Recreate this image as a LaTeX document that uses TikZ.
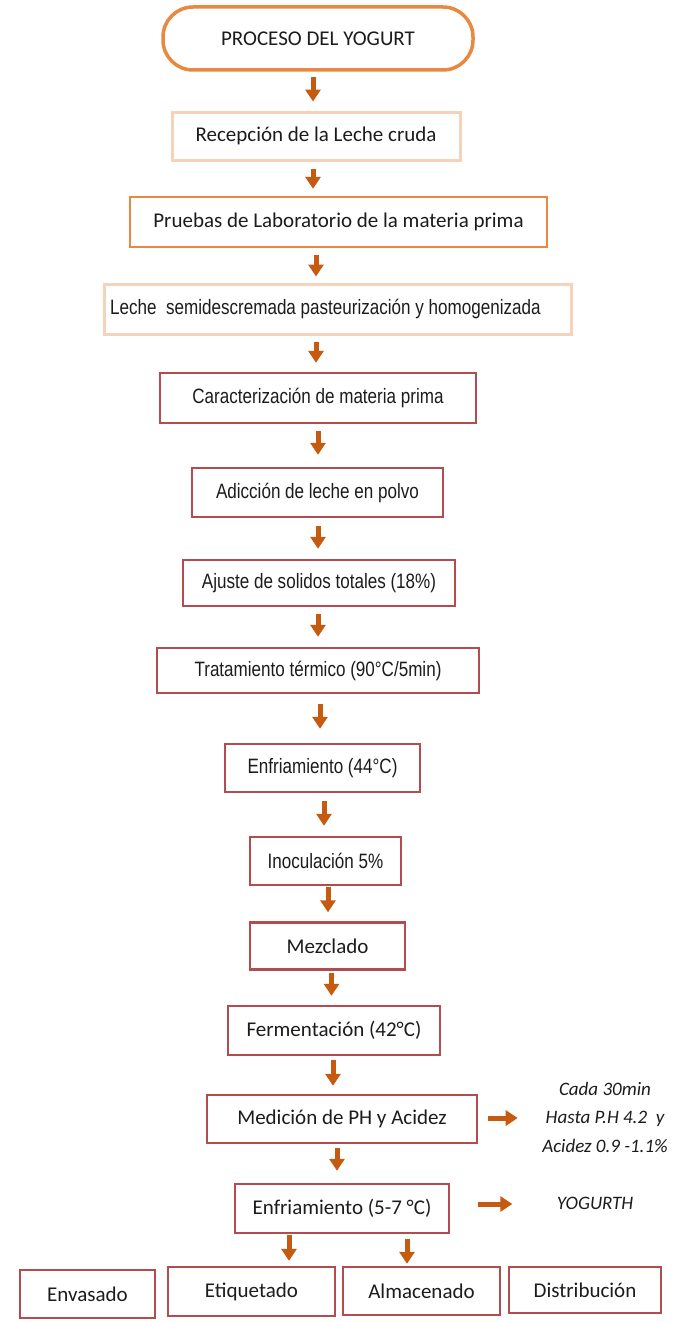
\documentclass[tikz,border=0pt]{standalone}
\usepackage{fontspec}
\setmainfont{Carlito}
\newfontfamily\narrowfont[FakeStretch=0.82]{Liberation Sans}
\usetikzlibrary{arrows.meta,calc}

\definecolor{peach}{HTML}{F6D2BA}
\definecolor{accorange}{HTML}{E9883E}
\definecolor{boxred}{HTML}{B24C4E}
\definecolor{arrowbrown}{HTML}{C55A11}
\definecolor{ink}{HTML}{1C1C1C}

% vertical process arrow: from node #1 down to node #2, x offset #3, gaps #4/#5
\newcommand\darr[5]{%
  \draw[flowarrow,shorten <=#4pt,shorten >=#5pt]
    ([xshift=#3pt]#1.south) -- ([xshift=#3pt]#1.south |- #2.north);}

\begin{document}
\begin{tikzpicture}[x=1pt,y=-1pt,
  every node/.style={text=ink},
  cfont/.style={font=\fontsize{21}{24}\selectfont},
  nfont/.style={font=\narrowfont\fontsize{20.8}{24}\selectfont},
  procbox/.style={draw=boxred,line width=2.5pt,inner sep=0pt},
  peachbox/.style={draw=peach,line width=3pt,inner sep=0pt},
  orangebox/.style={draw=accorange,line width=2.5pt,inner sep=0pt},
  flowarrow/.style={draw=arrowbrown,line width=5pt,
    -{Triangle[width=15pt,length=12pt]}},
  notetext/.style={font=\fontsize{19}{28.5}\selectfont\itshape,align=center},
]
\useasboundingbox (0,0) rectangle (677,1322);
\fill[white] (0,0) rectangle (677,1322);

% title
\node[draw=accorange,line width=3.5pt,rounded corners=30pt,
      minimum width=310pt,minimum height=63pt,cfont] (title) at (318,38.5)
      {PROCESO DEL YOGURT};

% process steps
\node[peachbox,minimum width=288pt,minimum height=48pt,cfont] (rec) at (316,136)
  {Recepción de la Leche cruda};
\node[orangebox,minimum width=417pt,minimum height=50pt,cfont] (pru) at (338.5,222)
  {Pruebas de Laboratorio de la materia prima};
\node[peachbox,minimum width=467pt,minimum height=50pt] (lec) at (337.5,309) {};
\node[nfont,anchor=west,inner sep=0pt] (lectxt) at (110,309)
  {Leche\ \ semidescremada pasteurización y homogenizada};
\node[procbox,minimum width=316pt,minimum height=50pt,nfont] (car) at (318,398)
  {Caracterización de materia prima};
\node[procbox,minimum width=251pt,minimum height=49pt,nfont] (adi) at (317.5,492.5)
  {Adicción de leche en polvo};
\node[procbox,minimum width=272pt,minimum height=46pt,nfont] (aju) at (319,583)
  {Ajuste de solidos totales (18\%)};
\node[procbox,minimum width=322pt,minimum height=45pt,nfont] (tra) at (318,670.5)
  {Tratamiento térmico (90°C/5min)};
\node[procbox,minimum width=195pt,minimum height=48pt,nfont] (enfa) at (322.5,768)
  {Enfriamiento (44°C)};
\node[procbox,minimum width=151pt,minimum height=48pt,nfont] (ino) at (325.5,861)
  {Inoculación 5\%};
\node[procbox,minimum width=155pt,minimum height=47pt,cfont] (mez) at (327.5,946)
  {Mezclado};
\node[procbox,minimum width=212pt,minimum height=49pt,cfont] (fer) at (334,1030.5)
  {Fermentación (42°C)};
\node[procbox,minimum width=270pt,minimum height=48pt,cfont] (med) at (342,1119)
  {Medición de PH y Acidez};
\node[procbox,minimum width=214pt,minimum height=49pt,cfont] (enfb) at (342,1208.5)
  {Enfriamiento (5-7 °C)};

% final stages
\node[procbox,minimum width=135pt,minimum height=48pt,cfont] (env) at (87.5,1294)
  {Envasado};
\node[procbox,minimum width=167pt,minimum height=49pt,cfont] (eti) at (251.5,1291.5)
  {Etiquetado};
\node[procbox,minimum width=157pt,minimum height=48pt,cfont] (alm) at (421.5,1291)
  {Almacenado};
\node[procbox,minimum width=152pt,minimum height=46pt,cfont] (dis) at (585,1290)
  {Distribución};

% side notes
\node[notetext] (note) at (605,1117)
  {Cada 30min\\Hasta P.H 4.2\ \ y\\Acidez 0.9 -1.1\%};
\node[font=\fontsize{19}{24}\selectfont\itshape] (yog) at (595,1203) {YOGURTH};

% flow arrows
\darr{title}{rec}{-5}{5}{9}
\darr{rec}{pru}{-3}{7}{7}
\darr{pru}{lec}{-22.5}{7}{6}
\darr{lec}{car}{-21.5}{6}{9}
\darr{car}{adi}{0}{7}{12}
\darr{adi}{aju}{0.5}{8}{10}
\darr{aju}{tra}{-1}{7}{10}
\darr{tra}{enfa}{2}{10}{14}
\darr{enfa}{ino}{1.5}{8}{10}
\darr{ino}{mez}{2.5}{1}{9}
\darr{mez}{fer}{4}{2}{9}
\darr{fer}{med}{-1}{4}{8}
\darr{med}{enfb}{-5}{4}{12}
\darr{enfb}{eti}{-53}{1}{5}
\darr{enfb}{alm}{65}{5}{2}

\draw[flowarrow,shorten <=10pt,shorten >=21pt]
  ([yshift=1pt]med.east) -- ([yshift=1pt]med.east -| note.west);
\draw[flowarrow,shorten <=28pt,shorten >=41pt]
  ([yshift=4.5pt]enfb.east) -- ([yshift=4.5pt]enfb.east -| yog.west);
\end{tikzpicture}
\end{document}
